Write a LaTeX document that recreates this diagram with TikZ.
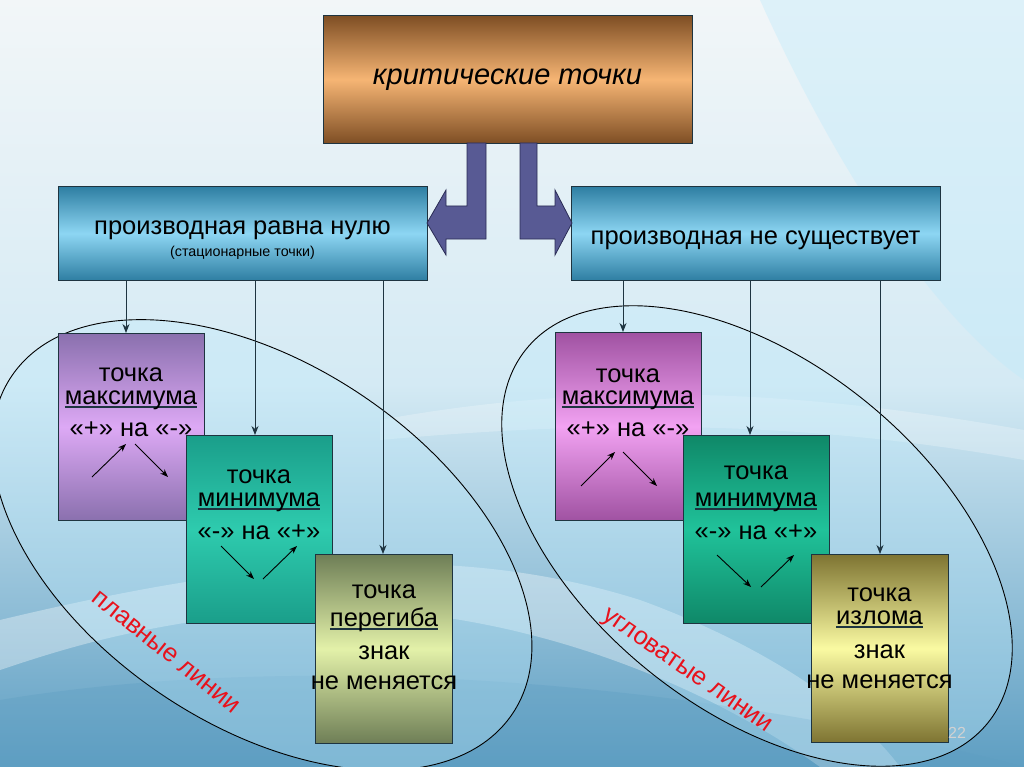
\documentclass[tikz,border=0pt]{standalone}
\usepackage{fontspec}
\setmainfont{Liberation Sans}
\usetikzlibrary{arrows.meta,calc}
\definecolor{bgTop}{HTML}{F2F6F8}
\definecolor{bgMid}{HTML}{D4EAF4}
\definecolor{bgBot}{HTML}{5E9EC2}
\definecolor{lineC}{HTML}{1E3440}
\definecolor{arrC}{HTML}{585A94}
\definecolor{arrD}{HTML}{2A2C55}
\definecolor{brTop}{HTML}{7E4E24}
\definecolor{brMid}{HTML}{F6B574}
\definecolor{blTop}{HTML}{2E7EA2}
\definecolor{blMid}{HTML}{8DD6F3}
\definecolor{puTop}{HTML}{8A70AE}
\definecolor{puMid}{HTML}{DDA9F5}
\definecolor{teTop}{HTML}{1A9E8A}
\definecolor{teMid}{HTML}{2ECBAE}
\definecolor{olTop}{HTML}{6E7E56}
\definecolor{olMid}{HTML}{E3F1A9}
\definecolor{mgTop}{HTML}{A052A2}
\definecolor{mgMid}{HTML}{F2A2F2}
\definecolor{dtTop}{HTML}{0F8868}
\definecolor{dtMid}{HTML}{20C29A}
\definecolor{yeTop}{HTML}{7E7432}
\definecolor{yeMid}{HTML}{FAFAA2}
\definecolor{redT}{HTML}{E8121C}
\definecolor{ulC}{HTML}{1E3440}
\newcommand\myul[1]{\leavevmode\setbox0\hbox{#1}\rlap{\textcolor{ulC}{\rule[-3.6pt]{\wd0}{1.7pt}}}\box0}
\begin{document}
\begin{tikzpicture}[x=1pt,y=-1pt,
  box/.style={draw=lineC, line width=0.9pt, inner sep=0pt, anchor=north west, rectangle},
  grad/.style n args={2}{shade, top color=#1, bottom color=#1, middle color=#2},
  bigtxt/.style={font=\fontsize{25.5}{29}\selectfont, anchor=base, inner sep=0pt, text=black},
  smalltxt/.style={font=\fontsize{14.3}{17}\selectfont, anchor=base, inner sep=0pt},
  conn/.style={draw=lineC, line width=0.9pt, -{Stealth[length=9pt,width=7pt]}},
  mini/.style={draw=black, line width=0.9pt, -{Stealth[length=8pt,width=6pt]}},
  blockarrow/.style={fill=arrC, draw=arrD, line width=0.8pt},
  ell/.style={draw=black, line width=0.9pt, fill=cyan!25!white, fill opacity=0.35},
  sidetxt/.style={font=\fontsize{25.5}{29}\selectfont, text=redT, inner sep=0pt}
]
\useasboundingbox (0,0) rectangle (1024,767);
% background
\shade[top color=bgTop, bottom color=bgBot, middle color=bgMid] (0,0) rectangle (1024,767);
\fill[cyan!25!white, opacity=0.4] (760,0) .. controls (850,200) and (950,330) .. (1024,380) -- (1024,0) -- cycle;
\fill[white, opacity=0.35] (0,620) .. controls (250,560) and (450,540) .. (640,600) .. controls (750,640) and (850,700) .. (900,767) -- (820,767) .. controls (700,680) and (500,600) .. (300,610) .. controls (150,620) and (60,650) .. (0,670) -- cycle;
\fill[white, opacity=0.25] (380,420) .. controls (600,380) and (800,390) .. (1024,430) -- (1024,460) .. controls (800,420) and (600,420) .. (380,440) -- cycle;
\fill[bgBot, opacity=0.35] (0,700) .. controls (300,650) and (700,680) .. (1024,767) -- (0,767) -- cycle;

% ellipses
\draw[ell, rotate around={-34:(262,545)}] (262,545) ellipse [x radius=302, y radius=180];
\draw[ell, rotate around={-39:(757,536)}] (757,536) ellipse [x radius=297, y radius=173];

% side labels
\node[sidetxt, rotate=-38.7] (sl) at (166,652) {плавные линии};
\node[sidetxt, rotate=-34.6] (sr) at (686,672) {угловатые линии};

% top box
\node[box, grad={brTop}{brMid}, minimum width=369pt, minimum height=128pt] (top) at (323,15) {};
\node[font=\fontsize{29}{33}\selectfont\itshape, inner sep=0pt] (toptxt) at (507.5,80) {критические точки};

% blue boxes
\node[box, grad={blTop}{blMid}, minimum width=369pt, minimum height=94pt] (lb) at (58,186) {};
\node[box, grad={blTop}{blMid}, minimum width=369pt, minimum height=94pt] (rb) at (571,186) {};
\node[bigtxt] (lbt) at (242.5,234) {производная равна нулю};
\node[smalltxt] (lbs) at (242.5,256) {(стационарные точки)};
\node[bigtxt] (rbt) at (755.5,244) {производная не существует};

% block arrows
\draw[blockarrow] (467,143) -- (486,143) -- (486,239) -- (446,239) -- (446,255) -- (427,223) -- (446,190) -- (446,206) -- (467,206) -- cycle;
\draw[blockarrow] (520,143) -- (537,143) -- (537,206) -- (555,206) -- (555,190) -- (572,223) -- (555,255) -- (555,239) -- (520,239) -- cycle;

% left group boxes
\node[box, grad={puTop}{puMid}, minimum width=146pt, minimum height=187pt] (lmax) at (58,333) {};
\node[box, grad={teTop}{teMid}, minimum width=146pt, minimum height=188pt] (lmin) at (186,435) {};
\node[box, grad={olTop}{olMid}, minimum width=137pt, minimum height=189pt] (linf) at (315,554) {};

% right group boxes
\node[box, grad={mgTop}{mgMid}, minimum width=146pt, minimum height=188pt] (rmax) at (555,332) {};
\node[box, grad={dtTop}{dtMid}, minimum width=146pt, minimum height=188pt] (rmin) at (683,435) {};
\node[box, grad={yeTop}{yeMid}, minimum width=137pt, minimum height=188pt] (rbr) at (811,554) {};

% connectors
\draw[conn] (lb.south -| 126,0) -- (lmax.north -| 126,0);
\draw[conn] (lb.south -| 255,0) -- (lmin.north -| 255,0);
\draw[conn] (lb.south -| 383,0) -- (linf.north -| 383,0);
\draw[conn] (rb.south -| 623,0) -- (rmax.north -| 623,0);
\draw[conn] (rb.south -| 750,0) -- (rmin.north -| 750,0);
\draw[conn] (rb.south -| 880,0) -- (rbr.north -| 880,0);

% left max text
\node[bigtxt] (t1a) at (131,381) {точка};
\node[bigtxt] (t1b) at (131,404) {\myul{максимума}};
\node[bigtxt] (t1c) at (131,436) {«+» на «-»};
\draw[mini] (92,477) -- (126,444);
\draw[mini] (135,444) -- (168,477);
% left min text
\node[bigtxt] (t2a) at (259,483) {точка};
\node[bigtxt] (t2b) at (259,506) {\myul{минимума}};
\node[bigtxt] (t2c) at (259,539) {«-» на «+»};
\draw[mini] (221,546) -- (254,579);
\draw[mini] (263,579) -- (297,546);
% inflection text
\node[bigtxt] (t3a) at (384,598) {точка};
\node[bigtxt] (t3b) at (384,626) {\myul{перегиба}};
\node[bigtxt] (t3c) at (384,659) {знак};
\node[bigtxt] (t3d) at (384,689) {не меняется};

% right max text
\node[bigtxt] (t4a) at (628,382) {точка};
\node[bigtxt] (t4b) at (628,404) {\myul{максимума}};
\node[bigtxt] (t4c) at (628,436) {«+» на «-»};
\draw[mini] (581,486) -- (615,452);
\draw[mini] (623,452) -- (657,486);
% right min text
\node[bigtxt] (t5a) at (756,479) {точка};
\node[bigtxt] (t5b) at (756,506) {\myul{минимума}};
\node[bigtxt] (t5c) at (756,539) {«-» на «+»};
\draw[mini] (717,555) -- (751,587);
\draw[mini] (761,587) -- (794,555);
% break text
\node[bigtxt] (t6a) at (879.5,601) {точка};
\node[bigtxt] (t6b) at (879.5,624) {\myul{излома}};
\node[bigtxt] (t6c) at (879.5,658) {знак};
\node[bigtxt] (t6d) at (879.5,688) {не меняется};

% page number
\node[font=\fontsize{16}{18}\selectfont, text=gray!35, inner sep=0pt] (pg) at (957,733) {22};
\end{tikzpicture}
\end{document}
